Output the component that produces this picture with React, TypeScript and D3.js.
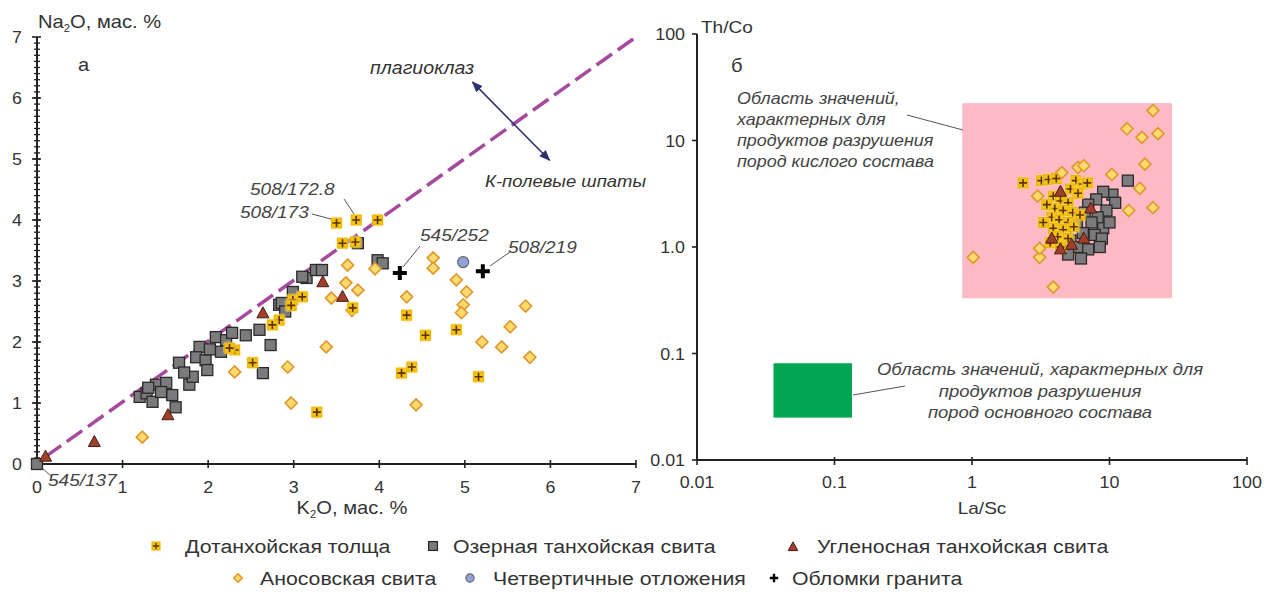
import React from "react";
import * as d3 from "d3";

// ---------- DATA ----------
// Panel а: K2O (x), Na2O (y), мас. %
const dotL: [number, number][] = [
  [3.5, 3.95], [3.73, 4.0], [3.98, 4.0], [3.57, 3.62], [3.72, 3.64], [2.99, 2.69], [3.1, 2.74],
  [2.83, 2.36], [2.75, 2.28], [2.31, 1.87], [2.52, 1.66], [2.25, 1.9], [3.69, 2.56], [4.32, 2.44],
  [4.54, 2.11], [4.9, 2.2], [4.26, 1.49], [4.38, 1.59], [5.16, 1.43], [3.27, 0.85], [2.97, 2.6],
];
const ozL: [number, number][] = [
  [0, 0], [1.2, 1.1], [1.28, 1.16], [1.39, 1.3], [1.51, 1.33], [1.35, 1.02], [1.58, 1.13], [1.62, 0.93],
  [1.45, 1.18], [1.66, 1.66], [1.78, 1.3], [1.82, 1.43], [1.9, 1.92], [1.86, 1.75], [1.97, 1.7],
  [1.99, 1.54], [2.09, 2.08], [2.15, 1.84], [2.21, 2.03], [2.28, 2.15], [2.44, 2.11], [2.6, 2.2],
  [2.64, 1.49], [2.73, 1.95], [2.83, 2.61], [2.99, 2.82], [3.15, 3.05], [3.26, 3.18], [3.33, 3.18],
  [3.1, 3.07], [3.98, 3.34], [4.04, 3.29], [2.86, 2.64], [2.02, 1.88], [1.72, 1.5], [3.75, 3.62],
  [2.9, 2.5], [1.3, 1.25],
];
const uglL: [number, number][] = [
  [0.1, 0.12], [0.67, 0.36], [1.53, 0.8], [2.64, 2.47], [3.34, 2.98], [3.57, 2.74],
];
const anosL: [number, number][] = [
  [1.23, 0.44], [2.31, 1.51], [2.93, 1.59], [2.97, 1.0], [3.38, 1.92], [3.63, 3.26], [3.61, 2.97],
  [3.75, 2.85], [3.44, 2.72], [3.68, 2.52], [4.32, 2.74], [4.63, 3.38], [4.63, 3.21], [4.9, 3.02],
  [5.02, 2.82], [4.98, 2.61], [4.96, 2.48], [5.2, 2.0], [5.43, 1.92], [5.53, 2.25], [5.71, 2.59],
  [5.76, 1.75], [4.43, 0.97], [3.95, 3.2],
];
const quatL: [number, number][] = [[4.98, 3.31]];
const graniteL: [number, number][] = [[4.24, 3.13], [5.21, 3.16]];
const feldsparLine: [number, number][] = [[0.1, 0.12], [7, 7]];
const arrowEnds: [number, number][] = [[5.09, 6.26], [5.99, 4.98]];

// Panel б: La/Sc (x), Th/Co (y)
const anosR: [number, number][] = [
  [20.7, 19.1], [13.4, 12.9], [17.2, 10.7], [22.5, 11.6], [18.1, 6.0], [10.4, 4.8], [16.6, 3.55],
  [20.7, 2.34], [13.8, 2.2], [5.9, 5.6], [6.5, 5.8], [3.0, 3.0], [1.02, 0.8], [3.9, 0.42], [3.1, 0.8],
  [3.1, 0.97], [4.5, 5.0],
];
const dotR: [number, number][] = [
  [2.35, 4.0], [3.2, 4.2], [3.6, 4.3], [4.1, 4.4], [5.7, 4.2], [6.4, 3.9], [6.9, 4.0], [5.2, 3.5],
  [5.9, 3.2], [3.9, 3.0], [4.4, 2.7], [5.0, 2.6], [4.0, 2.3], [4.6, 2.2], [5.4, 2.1], [6.1, 2.0],
  [3.8, 1.9], [4.3, 1.8], [5.0, 1.7], [3.9, 1.5], [4.6, 1.45], [5.5, 1.55], [4.2, 1.25], [5.0, 1.2],
  [3.7, 1.1], [4.4, 1.0], [3.3, 1.7], [3.5, 2.5],
];
const ozR: [number, number][] = [
  [13.6, 4.2], [10.5, 3.1], [11, 2.6], [9.0, 3.3], [8.0, 2.8], [7.0, 2.5], [9.5, 2.2], [8.2, 1.9],
  [6.6, 2.1], [7.4, 1.7], [9.0, 1.5], [10.0, 1.7], [5.8, 1.6], [6.4, 1.35], [7.8, 1.3], [8.8, 1.2],
  [5.2, 1.15], [6.0, 1.0], [7.0, 0.95], [5.0, 0.85], [6.2, 0.78], [8.5, 1.0], [4.8, 1.3],
];
const uglR: [number, number][] = [
  [4.4, 3.3], [3.8, 1.2], [4.4, 0.95], [5.3, 1.05], [6.5, 1.2], [7.3, 2.3],
];
const acidRegion = { laSc: [0.85, 28.5], thCo: [0.33, 22.4] };
const basicRegion = { laSc: [0.036, 0.134], thCo: [0.025, 0.081] };

const xTicksL = [0, 1, 2, 3, 4, 5, 6, 7];
const yTicksL = [0, 1, 2, 3, 4, 5, 6, 7];
const logTicks = [0.01, 0.1, 1, 10, 100];
const xTickLabelsR = ["0.01", "0.1", "1", "10", "100"];
const yTickLabelsR = ["0.01", "0.1", "1.0", "10", "100"];

const legendRow1 = ["Дотанхойская толща", "Озерная танхойская свита", "Угленосная танхойская свита"];
const legendRow2 = ["Аносовская свита", "Четвертичные отложения", "Обломки гранита"];

// ---------- SCALES ----------
const xL = d3.scaleLinear().domain([0, 7]).range([37, 636]);
const yL = d3.scaleLinear().domain([0, 7]).range([464, 37]);
const xR = d3.scaleLog().domain([0.01, 100]).range([697, 1247]);
const yR = d3.scaleLog().domain([0.01, 100]).range([460, 34]);

const FONT = "'Liberation Sans', Arial, Helvetica, sans-serif";
const TXT = "#333";

// ---------- MARKERS ----------
type MK = (x: number, y: number, k?: number, key?: any) => JSX.Element;
const dotM: MK = (x, y, k = 1, key) => (
  <g key={key}>
    <rect x={x - 6.5 * k} y={y - 6.5 * k} width={13 * k} height={13 * k} fill="#ffe680" opacity={0.45} rx={3} />
    <rect x={x - 5 * k} y={y - 5 * k} width={10 * k} height={10 * k} fill="#f5c211" stroke="#e7ae00" strokeWidth={0.8} />
    <path d={`M${x - 4 * k},${y}H${x + 4 * k}M${x},${y - 4 * k}V${y + 4 * k}`} stroke="#5b3300" strokeWidth={1.6 * k} />
  </g>
);
const sqM: MK = (x, y, k = 1, key) => (
  <rect key={key} x={x - 5.5 * k} y={y - 5.5 * k} width={11 * k} height={11 * k} fill="#7b7b7d" stroke="#2a2a2a" strokeWidth={1.3} />
);
const triM: MK = (x, y, k = 1, key) => (
  <path key={key} d={`M${x},${y - 6.5 * k}L${x + 6 * k},${y + 4.5 * k}L${x - 6 * k},${y + 4.5 * k}Z`} fill="#a0402c" stroke="#4b1a10" strokeWidth={1} />
);
const diaM: MK = (x, y, k = 1, key) => (
  <path key={key} d={`M${x},${y - 6 * k}L${x + 6 * k},${y}L${x},${y + 6 * k}L${x - 6 * k},${y}Z`} fill="#fbdb6e" stroke="#e0962c" strokeWidth={1.6} />
);
const cirM: MK = (x, y, k = 1, key) => (
  <circle key={key} cx={x} cy={y} r={5.5 * k} fill="#8fa3d9" stroke="#666" strokeWidth={1.2} />
);
const plusM: MK = (x, y, k = 1, key) => (
  <path key={key} d={`M${x - 7 * k},${y}H${x + 7 * k}M${x},${y - 7 * k}V${y + 7 * k}`} stroke="#000" strokeWidth={4 * k} />
);

// horizontally widened text (the reference lettering is wide)
const T = ({ x, y, sx = 1.12, anchor = "start", size = 17, it = false, fill = TXT, children }: any) => (
  <text transform={`translate(${x},${y}) scale(${sx},1)`} textAnchor={anchor} fontSize={size}
    fontFamily={FONT} fontStyle={it ? "italic" : "normal"} fill={fill}>{children}</text>
);

export default function App() {
  const pL = (d: [number, number]) => [xL(d[0]), yL(d[1])];
  const pR = (d: [number, number]) => [xR(d[0]), yR(d[1])];
  const line = d3.line<[number, number]>().x((d) => xL(d[0])).y((d) => yL(d[1]));
  const minor = d3.range(0, 70).map((i) => i / 10);
  const IT = "#444";

  return (
    <svg width={1264} height={596} style={{ position: "absolute", left: 0, top: 0, background: "#fff" }}>
      <defs>
        <marker id="ah" viewBox="0 0 10 10" refX="9" refY="5" markerWidth="7" markerHeight="7" orient="auto-start-reverse">
          <path d="M0,1L10,5L0,9Z" fill="#2e3170" />
        </marker>
      </defs>

      {/* ===== PANEL а ===== */}
      <path d={line(feldsparLine) || ""} fill="none" stroke="#a54a9d" strokeWidth={3.5} strokeDasharray="19 7" />
      <line x1={xL(0)} x2={xL(0)} y1={yL(7)} y2={yL(0)} stroke="#222" strokeWidth={2} />
      <line x1={xL(0)} x2={xL(7)} y1={yL(0)} y2={yL(0)} stroke="#222" strokeWidth={2} />
      {minor.map((v, i) => (
        <line key={"mn" + i} x1={xL(0) - 3} x2={xL(0) + 3} y1={yL(v)} y2={yL(v)} stroke="#222" strokeWidth={1.3} />
      ))}
      {yTicksL.map((v) => (
        <g key={"yl" + v}>
          <line x1={xL(0) - 5} x2={xL(0) + 4} y1={yL(v)} y2={yL(v)} stroke="#222" strokeWidth={1.6} />
          <T x={xL(0) - 15} y={yL(v) + 6} anchor="end" sx={1.05}>{v}</T>
        </g>
      ))}
      {xTicksL.map((v) => (
        <g key={"xl" + v}>
          <line x1={xL(v)} x2={xL(v)} y1={yL(0) - 4} y2={yL(0) + 4} stroke="#222" strokeWidth={1.6} />
          <T x={xL(v)} y={yL(0) + 29} anchor="middle" sx={1.05}>{v}</T>
        </g>
      ))}
      <T x={38} y={28} size={18}>
        Na<tspan fontSize={10} dy={4}>2</tspan><tspan dy={-4}>O, мас. %</tspan>
      </T>
      <T x={352} y={514} size={18} anchor="middle">
        K<tspan fontSize={10} dy={4}>2</tspan><tspan dy={-4}>O, мас. %</tspan>
      </T>
      <T x={78} y={71} size={18}>а</T>

      <line x1={xL(arrowEnds[0][0])} y1={yL(arrowEnds[0][1])} x2={xL(arrowEnds[1][0])} y2={yL(arrowEnds[1][1])}
        stroke="#2e3170" strokeWidth={1.6} markerStart="url(#ah)" markerEnd="url(#ah)" />
      <T x={370} y={74} size={17.5} it>плагиоклаз</T>
      <T x={485} y={187} size={16.5} it>К-полевые шпаты</T>

      {ozL.map((d, i) => { const [x, y] = pL(d); return sqM(x, y, 1, "oz" + i); })}
      {anosL.map((d, i) => { const [x, y] = pL(d); return diaM(x, y, 1, "an" + i); })}
      {dotL.map((d, i) => { const [x, y] = pL(d); return dotM(x, y, 1, "dt" + i); })}
      {uglL.map((d, i) => { const [x, y] = pL(d); return triM(x, y, 1, "ug" + i); })}
      {quatL.map((d, i) => { const [x, y] = pL(d); return cirM(x, y, 1, "qt" + i); })}
      {graniteL.map((d, i) => { const [x, y] = pL(d); return plusM(x, y, 1, "gr" + i); })}

      <g stroke="#555" strokeWidth={1}>
        <line x1={344} y1={199} x2={354} y2={214} />
        <line x1={312} y1={214} x2={331} y2={219} />
        <line x1={420} y1={246} x2={403} y2={267} />
        <line x1={510} y1={252} x2={490} y2={266} />
        <line x1={41} y1={467} x2={52} y2={477} />
      </g>
      <T x={250} y={195} it fill={IT}>508/172.8</T>
      <T x={240} y={218} it fill={IT}>508/173</T>
      <T x={420} y={241} it fill={IT}>545/252</T>
      <T x={508} y={253} it fill={IT}>508/219</T>
      <T x={48} y={486} it fill={IT}>545/137</T>

      {/* ===== PANEL б ===== */}
      <rect x={xR(acidRegion.laSc[0])} y={yR(acidRegion.thCo[1])}
        width={xR(acidRegion.laSc[1]) - xR(acidRegion.laSc[0])}
        height={yR(acidRegion.thCo[0]) - yR(acidRegion.thCo[1])} fill="#fdb9c4" />
      <rect x={xR(basicRegion.laSc[0])} y={yR(basicRegion.thCo[1])}
        width={xR(basicRegion.laSc[1]) - xR(basicRegion.laSc[0])}
        height={yR(basicRegion.thCo[0]) - yR(basicRegion.thCo[1])} fill="#00a651" />
      <line x1={xR(0.01)} x2={xR(0.01)} y1={yR(100)} y2={yR(0.01)} stroke="#222" strokeWidth={2} />
      <line x1={xR(0.01)} x2={xR(100)} y1={yR(0.01)} y2={yR(0.01)} stroke="#222" strokeWidth={2} />
      {logTicks.map((v, i) => (
        <g key={"yr" + i}>
          <line x1={xR(0.01) - 5} x2={xR(0.01)} y1={yR(v)} y2={yR(v)} stroke="#222" strokeWidth={1.6} />
          <T x={xR(0.01) - 12} y={yR(v) + 6} anchor="end" sx={1.05}>{yTickLabelsR[i]}</T>
          <line x1={xR(v)} x2={xR(v)} y1={yR(0.01) - 3} y2={yR(0.01) + 5} stroke="#222" strokeWidth={1.6} />
          <T x={xR(v)} y={yR(0.01) + 28} anchor="middle" sx={1.05}>{xTickLabelsR[i]}</T>
        </g>
      ))}
      <T x={701} y={33}>Th/Co</T>
      <T x={982} y={514} anchor="middle">La/Sc</T>
      <T x={731} y={72} size={18}>б</T>

      {ozR.map((d, i) => { const [x, y] = pR(d); return sqM(x, y, 1, "ozr" + i); })}
      {dotR.map((d, i) => { const [x, y] = pR(d); return dotM(x, y, 1, "dtr" + i); })}
      {uglR.map((d, i) => { const [x, y] = pR(d); return triM(x, y, 1, "ugr" + i); })}
      {anosR.map((d, i) => { const [x, y] = pR(d); return diaM(x, y, 1, "anr" + i); })}

      <line x1={907} y1={115} x2={963} y2={130} stroke="#555" strokeWidth={1} />
      <T x={737} y={104} size={16} it fill={IT}>Область значений,</T>
      <T x={737} y={125} size={16} it fill={IT}>характерных для</T>
      <T x={737} y={146} size={16} it fill={IT}>продуктов разрушения</T>
      <T x={737} y={167} size={16} it fill={IT}>пород кислого состава</T>

      <line x1={853} y1={395} x2={905} y2={386} stroke="#555" strokeWidth={1} />
      <T x={1040} y={375} size={16.5} it anchor="middle" fill={IT}>Область значений, характерных для</T>
      <T x={1040} y={397} size={16.5} it anchor="middle" fill={IT}>продуктов разрушения</T>
      <T x={1040} y={418} size={16.5} it anchor="middle" fill={IT}>пород основного состава</T>

      {/* ===== LEGEND ===== */}
      {dotM(156, 546, 0.8, "l1")}
      <T x={185} y={553} size={19}>{legendRow1[0]}</T>
      {sqM(433, 546, 0.8, "l2")}
      <T x={453} y={553} size={19}>{legendRow1[1]}</T>
      {triM(793, 547, 0.8, "l3")}
      <T x={817} y={553} size={19}>{legendRow1[2]}</T>
      {diaM(238, 578, 0.7, "l4")}
      <T x={260} y={585} size={19}>{legendRow2[0]}</T>
      {cirM(470, 578, 0.75, "l5")}
      <T x={493} y={585} size={19}>{legendRow2[1]}</T>
      {plusM(774, 578, 0.6, "l6")}
      <T x={792} y={585} size={19}>{legendRow2[2]}</T>
    </svg>
  );
}
